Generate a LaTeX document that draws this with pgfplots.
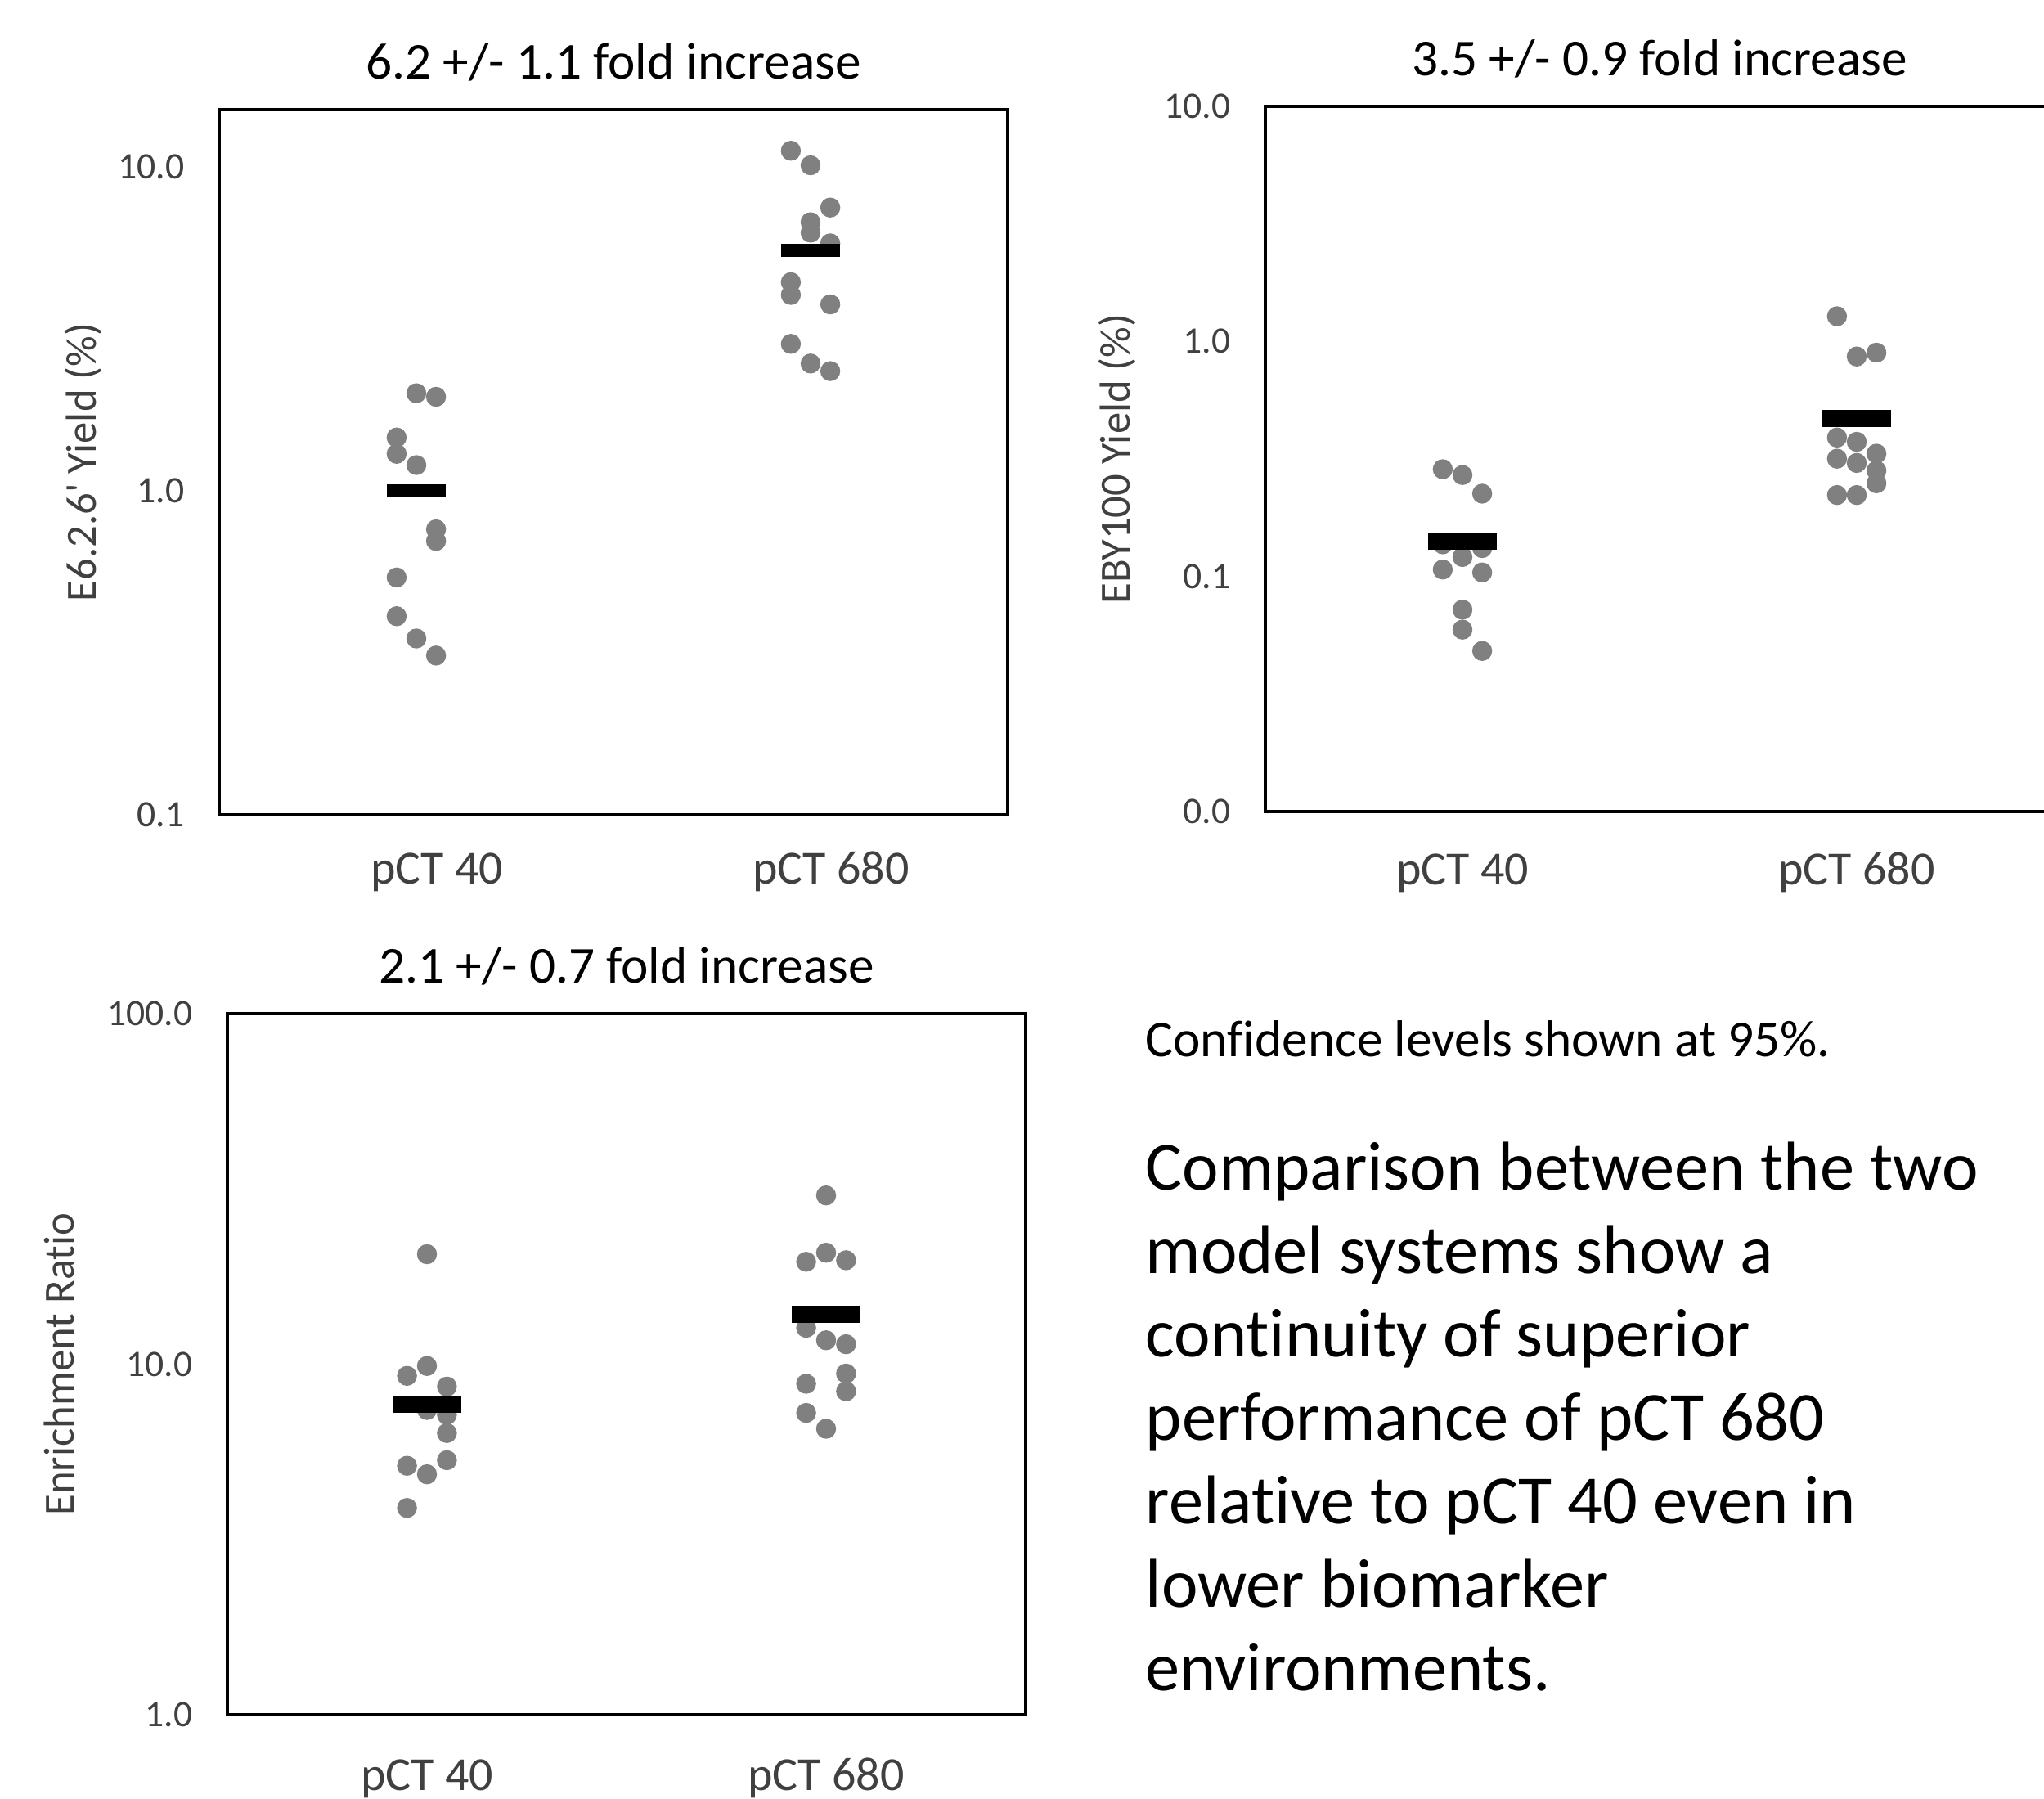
\documentclass[border=0pt]{standalone}
\usepackage{fontspec}
\setmainfont{Carlito}[Ligatures=NoCommon]
\usepackage{pgfplots}
\pgfplotsset{compat=1.18}

\definecolor{dotgray}{HTML}{808080}
\definecolor{axtext}{HTML}{404040}

% mean bars
\pgfdeclareplotmark{meanA}{\pgfpathrectangle{\pgfqpoint{-0.36cm}{-0.08cm}}{\pgfqpoint{0.72cm}{0.16cm}}\pgfusepathqfill}
\pgfdeclareplotmark{meanB}{\pgfpathrectangle{\pgfqpoint{-0.42cm}{-0.105cm}}{\pgfqpoint{0.84cm}{0.21cm}}\pgfusepathqfill}

\pgfplotsset{
  mypanel/.style={
    scale only axis, anchor=south west,
    xmin=0.5, xmax=2.5,
    xtick={1,2}, xticklabels={pCT 40, pCT 680},
    tick style={draw=none}, yminorticks=false,
    axis line style={line width=1.1pt, black},
    yticklabel style={font=\fontsize{13}{15}\selectfont, text=axtext, anchor=east, inner sep=0pt, xshift=-0.42cm},
    xticklabel style={font=\fontsize{16.5}{19}\selectfont, text=axtext, anchor=base, inner sep=0pt},
    title style={font=\fontsize{18}{21}\selectfont, anchor=base, at={(0.5,1)}, yshift=0.16cm, inner sep=0pt},
    clip=false,
  },
  mydots/.style={only marks, mark=*, mark size=0.115cm, color=dotgray, mark options={solid, fill=dotgray, draw=dotgray}},
}

\begin{document}
\begin{tikzpicture}

% E6.2.6' yield
\begin{axis}[ymode=log, mypanel, at={(2.68cm,12.03cm)}, width=9.64cm, height=8.62cm,
  ymin=0.1, ymax=15, ytick={0.1,1,10}, yticklabels={0.1,1.0,10.0},
  xticklabel style={yshift=-0.85cm, xshift=0.25cm},
  title={6.2 +/- 1.1 fold increase},
  ylabel={E6.2.6\textquotesingle\ Yield (\%)},
  ylabel style={at={(axis description cs:-0.172,0.5)}, anchor=center, font=\fontsize{15}{18}\selectfont, text=axtext}]
\addplot[mydots] coordinates {
  (1.0,2.00) (1.05,1.95) (0.95,1.46) (0.95,1.30) (1.0,1.20)
  (1.05,0.76) (1.05,0.70) (0.95,0.54) (0.95,0.41) (1.0,0.35) (1.05,0.31)};
\addplot[mydots] coordinates {
  (1.95,11.2) (2.0,10.1) (2.05,7.48) (2.0,6.74) (2.0,6.26) (2.05,5.80)
  (1.95,4.40) (1.95,4.02) (2.05,3.76) (1.95,2.84) (2.0,2.47) (2.05,2.34)};
\addplot[only marks, mark=meanA, black] coordinates {(1,1.0) (2,5.53)};
\end{axis}

% EBY100 yield
\begin{axis}[ymode=log, mypanel, at={(15.47cm,12.07cm)}, width=9.64cm, height=8.62cm,
  ymin=0.01, ymax=10, ytick={0.01,0.1,1,10}, yticklabels={0.0,0.1,1.0,10.0},
  xticklabel style={yshift=-0.90cm},
  title={3.5 +/- 0.9 fold increase},
  ylabel={EBY100 Yield (\%)},
  ylabel style={at={(axis description cs:-0.188,0.5)}, anchor=center, font=\fontsize{15}{18}\selectfont, text=axtext}]
\addplot[mydots] coordinates {
  (0.95,0.286) (1.0,0.270) (1.05,0.225) (0.95,0.137) (1.05,0.132)
  (1.0,0.121) (0.95,0.107) (1.05,0.104) (1.0,0.0722) (1.0,0.0594) (1.05,0.0482)};
\addplot[mydots] coordinates {
  (1.95,1.28) (2.0,0.863) (2.05,0.896) (1.95,0.390) (2.0,0.374) (2.05,0.333)
  (1.95,0.317) (2.0,0.304) (2.05,0.282) (2.05,0.249) (1.95,0.222) (2.0,0.222)};
\addplot[only marks, mark=meanB, black] coordinates {(1,0.141) (2,0.469)};
\end{axis}

% Enrichment ratio
\begin{axis}[ymode=log, mypanel, at={(2.78cm,1.03cm)}, width=9.76cm, height=8.57cm,
  ymin=1, ymax=100, ytick={1,10,100}, yticklabels={1.0,10.0,100.0},
  xticklabel style={yshift=-0.92cm},
  title={2.1 +/- 0.7 fold increase},
  ylabel={Enrichment Ratio},
  ylabel style={at={(axis description cs:-0.211,0.5)}, anchor=center, font=\fontsize{15}{18}\selectfont, text=axtext}]
\addplot[mydots] coordinates {
  (1.0,20.6) (1.0,9.88) (0.95,9.26) (1.05,8.63) (1.0,7.4) (1.05,7.17)
  (1.05,6.36) (1.05,5.32) (0.95,5.13) (1.0,4.85) (0.95,3.89)};
\addplot[mydots] coordinates {
  (2.0,30.3) (2.0,20.8) (1.95,19.6) (2.05,19.8) (1.95,12.7) (2.0,11.7)
  (2.05,11.4) (2.05,9.40) (1.95,8.79) (2.05,8.37) (1.95,7.26) (2.0,6.54)};
\addplot[only marks, mark=meanB, black] coordinates {(1,7.70) (2,13.9)};
\end{axis}

% notes
\node[anchor=base west, inner sep=0pt, font=\fontsize{18}{21}\selectfont] at (14.00,9.07) {Confidence levels shown at 95\%.};
\begin{scope}[every node/.style={anchor=base west, inner sep=0pt, font=\fontsize{24}{29}\selectfont}]
\node at (14.00,7.44) {Comparison between the two};
\node at (14.00,6.42) {model systems show a};
\node at (14.00,5.40) {continuity of superior};
\node at (14.00,4.38) {performance of pCT 680};
\node at (14.00,3.36) {relative to pCT 40 even in};
\node at (14.00,2.34) {lower biomarker};
\node at (14.00,1.32) {environments.};
\end{scope}

\pgfresetboundingbox
\path[use as bounding box] (0,0) rectangle (24.99,21.99);
\end{tikzpicture}
\end{document}
